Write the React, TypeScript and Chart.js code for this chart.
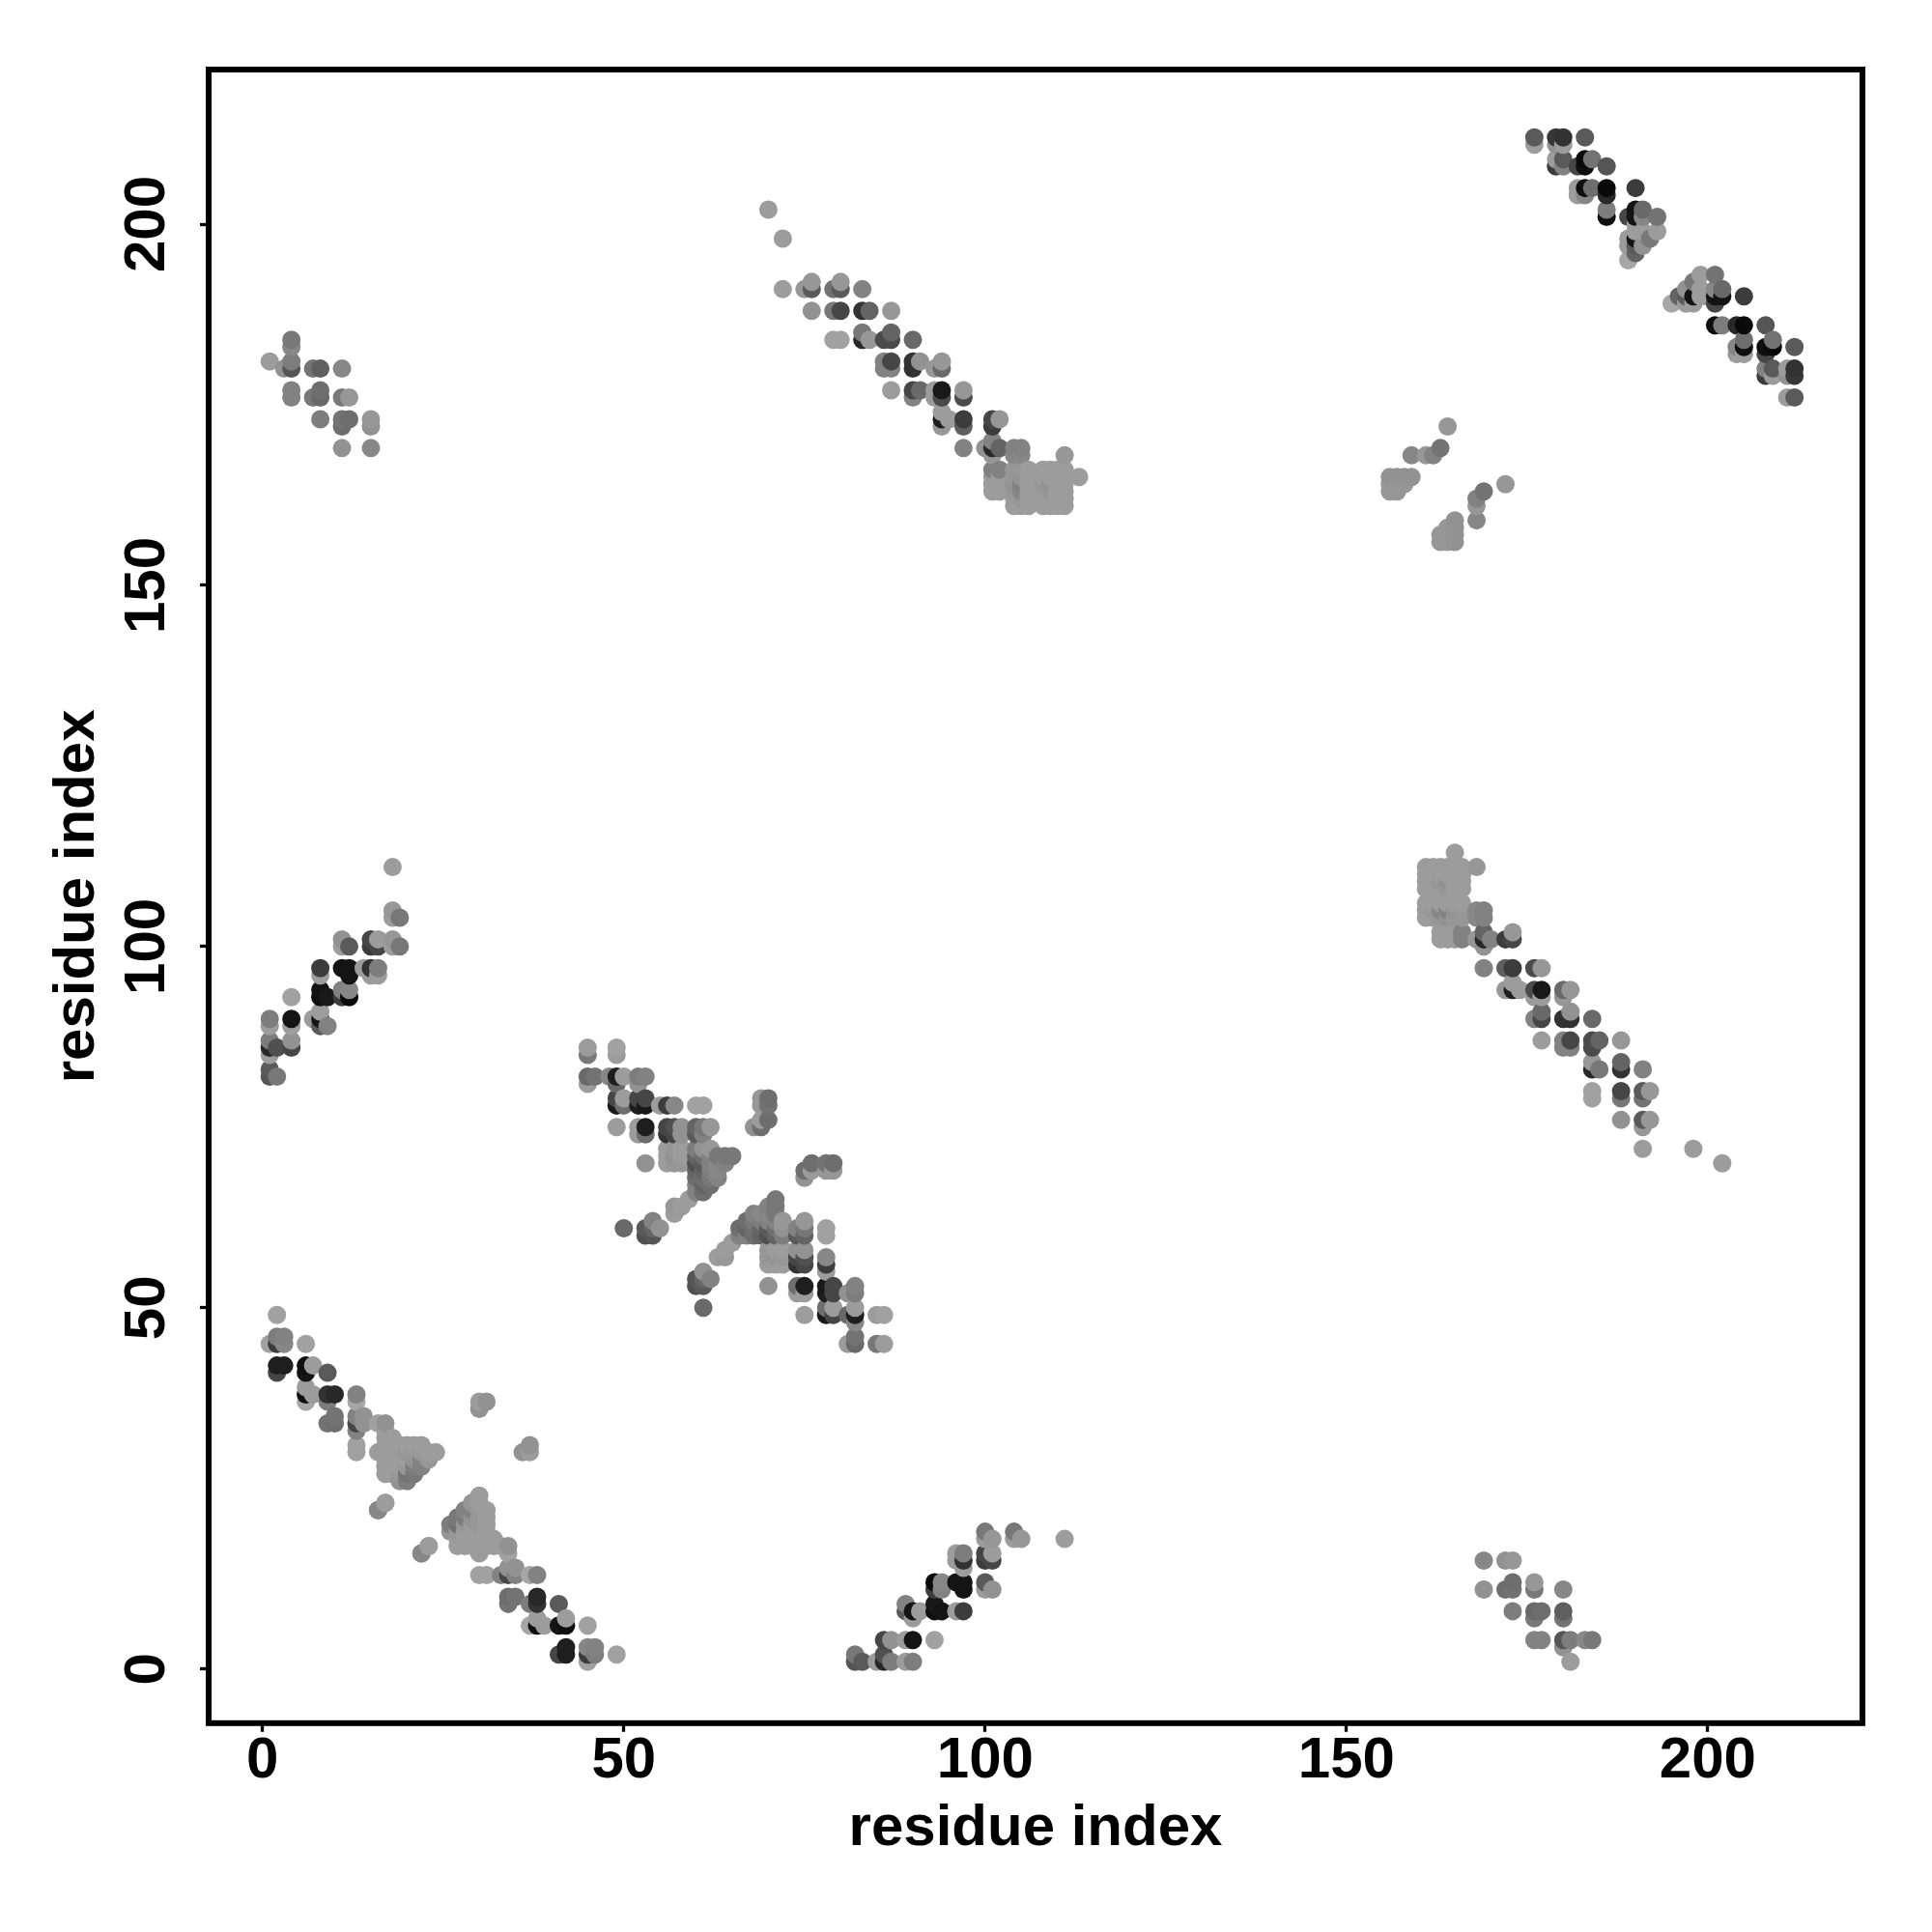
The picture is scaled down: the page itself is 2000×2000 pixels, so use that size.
import React, { useEffect, useRef } from "react";
import { Chart, registerables } from "chart.js";

Chart.register(...registerables);

// Contact map: [residue a, residue b, gray level]; the map is symmetric, so each contact is listed once.
type Contact = [number, number, number];

const tickValues = [0, 50, 100, 150, 200];
const axisLabel = "residue index";

const helixHairpinA: Contact[] = [
  [1,45,155],[2,41,70],[2,42,30],[2,45,60],[2,46,125],[2,49,155],[3,42,30],[3,45,135],[3,46,130],
  [6,37,160],[6,38,15],[6,39,150],[6,41,20],[6,42,15],[6,45,155],[7,38,150],[7,42,150],
  [9,34,115],[9,37,125],[9,38,50],[9,41,90],[10,34,110],[10,35,115],[10,38,40],
  [13,30,155],[13,31,155],[13,33,130],[13,34,70],[13,35,130],[13,37,160],[13,38,130],[14,34,140],[14,35,140],
  [16,22,130],[16,30,150],[16,34,155],
  [17,23,150],[17,27,150],[17,28,150],[17,29,150],[17,30,150],[17,31,150],[17,32,150],[17,33,150],[17,34,140],
  [18,27,150],[18,28,150],[18,29,150],[18,30,150],[18,31,150],[18,32,150],
  [19,26,140],[19,27,145],[19,28,150],[19,29,150],[19,30,150],[19,31,150],
  [20,26,125],[20,27,115],[20,28,145],[20,29,150],[20,30,145],[20,31,150],
  [21,27,120],[21,28,125],[21,29,140],[21,30,145],[21,31,150],
  [22,16,135],[22,28,130],[22,29,130],[22,30,145],[22,31,150],[23,17,150],[23,29,145],[23,30,150],[24,30,150],
  [30,36,140],[30,37,150],[31,37,140],
];

const helixHairpinB: Contact[] = [
  [45,81,150],[45,82,105],[45,85,120],[45,86,150],[46,82,115],[48,82,135],
  [49,75,150],[49,78,25],[49,79,70],[49,81,105],[49,82,30],[49,85,150],[49,86,155],
  [50,61,105],[50,78,110],[50,79,150],[50,82,150],
  [52,74,150],[52,75,150],[52,78,30],[52,79,70],[52,81,140],[52,82,125],
  [53,60,80],[53,61,90],[53,70,140],[53,74,110],[53,75,30],[53,78,25],[53,79,70],[53,82,130],
  [54,60,85],[54,61,100],[54,62,130],[55,61,140],[55,78,150],
  [56,70,150],[56,71,150],[56,72,150],[56,74,50],[56,75,70],[56,78,60],
  [57,63,150],[57,64,145],[57,70,145],[57,71,140],[57,72,145],[57,74,70],[57,75,80],[57,78,135],
  [58,64,150],[58,70,145],[58,71,150],[58,72,150],[58,74,140],[58,75,140],[59,65,150],
  [60,66,130],[60,67,130],[60,68,110],[60,69,100],[60,70,80],[60,71,100],[60,72,125],[60,74,90],[60,75,100],[60,78,155],
  [61,66,110],[61,67,100],[61,68,110],[61,69,100],[61,70,90],[61,71,110],[61,72,140],[61,74,130],[61,75,120],[61,78,155],
  [62,67,110],[62,68,120],[62,69,125],[62,70,130],[62,71,130],[62,72,145],[62,75,145],
  [63,68,130],[63,69,135],[63,70,135],[63,71,120],[64,70,130],[64,71,120],[65,71,120],
  [68,75,140],[69,75,110],[69,76,150],[69,78,145],[69,79,145],[70,76,110],[70,78,115],[70,79,110],
];

const bandC: Contact[] = [
  [82,1,85],[82,2,120],[83,1,90],[85,1,150],[86,1,40],[86,2,80],[86,4,70],[87,1,125],[87,4,140],
  [89,1,150],[89,4,150],[89,8,90],[89,9,130],[90,1,125],[90,4,20],[90,7,150],[90,8,20],[91,8,150],[93,4,155],
  [93,8,15],[93,9,25],[93,11,60],[93,12,10],[94,8,20],[94,11,130],[94,12,135],
  [96,8,150],[96,12,20],[96,15,150],[96,16,150],[97,8,60],[97,11,20],[97,12,20],[97,14,150],[97,15,50],[97,16,125],
  [100,11,150],[100,12,90],[100,15,60],[100,16,70],[100,18,150],[100,19,120],[101,11,140],[101,15,70],[101,16,150],[101,18,145],
  [104,18,150],[104,19,120],[105,18,145],[111,18,150],
];

const bandD: Contact[] = [
  [169,11,140],[169,15,135],[172,11,110],[172,15,140],[173,8,125],[173,11,115],[173,12,110],[173,15,145],
  [176,4,130],[176,7,120],[176,8,105],[176,11,120],[176,12,145],[177,4,130],[177,8,110],
  [180,3,140],[180,4,85],[180,7,115],[180,8,95],[180,11,135],[181,1,150],[181,4,125],[183,4,135],[184,4,120],
];

const bandE: Contact[] = [
  [70,202,150],[72,191,150],[72,198,150],[75,191,145],[76,188,140],[76,191,90],[76,192,145],
  [79,184,155],[79,188,120],[79,191,115],[80,184,155],[80,188,70],[80,191,90],[80,192,145],
  [83,184,40],[83,185,120],[83,188,50],[83,191,130],[84,184,145],[84,188,100],
  [86,180,130],[86,181,130],[86,184,75],[87,177,150],[87,180,130],[87,181,70],[87,184,75],[87,185,100],[87,188,145],
  [90,176,130],[90,177,70],[90,180,50],[90,181,50],[90,184,105],[91,177,105],[91,181,140],
  [93,176,150],[93,177,150],[93,180,145],[94,172,145],[94,173,30],[94,174,150],[94,176,75],[94,177,25],[94,180,105],[94,181,145],
  [95,173,150],[97,169,130],[97,172,95],[97,173,60],[97,176,75],[97,177,145],[100,169,140],
  [101,163,150],[101,164,150],[101,165,150],[101,166,130],[101,168,145],[101,169,40],[101,170,130],[101,172,60],[101,173,70],
  [102,163,150],[102,164,150],[102,165,150],[102,166,130],[102,169,100],[102,173,145],
  [104,161,150],[104,162,150],[104,163,145],[104,164,140],[104,165,145],[104,166,145],[104,168,135],[104,169,130],
  [105,161,150],[105,162,145],[105,163,135],[105,164,130],[105,165,140],[105,166,145],[105,168,135],[105,169,130],
  [106,161,150],[106,162,150],[106,163,150],[106,164,150],[106,165,150],[106,166,150],
  [108,161,150],[108,162,150],[108,163,150],[108,164,145],[108,165,150],[108,166,150],
  [109,161,150],[109,162,150],[109,163,145],[109,164,140],[109,165,150],[109,166,150],
  [110,161,150],[110,162,150],[110,163,150],[110,164,150],[110,165,150],[110,166,150],
  [111,161,150],[111,162,150],[111,163,150],[111,164,150],[111,165,150],[111,166,150],[111,168,145],[113,165,150],
];

const bandF: Contact[] = [
  [156,163,145],[156,164,145],[156,165,140],[157,163,145],[157,164,145],[157,165,140],[158,164,145],[158,165,140],
  [159,165,140],[159,168,135],[161,168,145],[162,168,130],[163,169,115],[164,172,145],
];

const bandG: Contact[] = [
  [176,211,150],[176,212,90],[179,208,60],[179,209,150],[179,211,140],[179,212,55],[180,208,130],[180,209,90],[180,211,150],[180,212,50],
  [182,204,150],[182,205,150],[182,208,70],[183,204,135],[183,205,15],[183,208,15],[183,209,10],[183,212,90],[184,205,110],[184,209,115],
  [186,201,15],[186,202,125],[186,204,40],[186,205,10],[186,208,85],
  [189,195,160],[189,197,150],[189,198,150],[189,201,70],[190,196,100],[190,197,90],[190,198,20],[190,199,150],[190,200,150],[190,201,20],[190,202,20],[190,205,60],
  [191,197,140],[191,199,150],[191,201,135],[191,202,105],[192,198,120],[193,199,150],[193,201,115],
];

const contacts: Contact[] = [
  ...helixHairpinA, ...helixHairpinB, ...bandC, ...bandD, ...bandE, ...bandF, ...bandG,
];

const mirrored = contacts
  .flatMap(([a, b, g]): Contact[] => [[a, b, g], [b, a, g]])
  .sort((p, q) => p[0] - q[0] || p[1] - q[1]);

// The palest marks read slightly lighter than first estimated.
const toColor = (g: number) => {
  const v = g >= 140 ? g + 6 : g;
  return `rgb(${v},${v},${v})`;
};

const framePlugin = {
  id: "frame",
  afterDatasetsDraw(chart: Chart) {
    const { ctx, chartArea: a } = chart;
    ctx.save();
    ctx.strokeStyle = "#000";
    ctx.lineWidth = 6;
    ctx.lineJoin = "miter";
    ctx.strokeRect(a.left, a.top, a.right - a.left, a.bottom - a.top);
    ctx.restore();
  },
};

const FONT_FAMILY = '"Liberation Sans", Arial, sans-serif';

export default function App() {
  const ref = useRef<HTMLCanvasElement>(null);
  useEffect(() => {
    if (!ref.current) return;
    const chart = new Chart(ref.current, {
      type: "scatter",
      data: {
        datasets: [
          {
            data: mirrored.map(([x, y]) => ({ x, y })),
            pointRadius: 9.5,
            pointHoverRadius: 9.5,
            pointBorderWidth: 0,
            pointBackgroundColor: mirrored.map(([, , g]) => toColor(g)),
            showLine: false,
          },
        ],
      },
      options: {
        animation: false,
        responsive: false,
        events: [],
        layout: { padding: { top: 72, right: 72, left: 0, bottom: 0 } },
        plugins: { legend: { display: false }, tooltip: { enabled: false }, title: { display: false } },
        scales: {
          x: {
            type: "linear",
            min: -7.45,
            max: 221.4,
            afterFit: (s: any) => { s.height = 216.2; },
            afterBuildTicks: (s: any) => { s.ticks = tickValues.map((value) => ({ value })); },
            border: { display: false },
            grid: { drawOnChartArea: false, drawTicks: true, tickLength: 9, tickWidth: 3.3, tickColor: "#000" },
            ticks: {
              autoSkip: false, maxRotation: 0, minRotation: 0, padding: -5, color: "#000",
              font: { family: FONT_FAMILY, weight: "bold", size: 60 },
            },
            title: {
              display: true, text: axisLabel, color: "#000", padding: { top: 0, bottom: 71 },
              font: { family: FONT_FAMILY, weight: "bold", size: 60 },
            },
          },
          y: {
            type: "linear",
            min: -7.5,
            max: 221.4,
            afterFit: (s: any) => { s.width = 216; },
            afterBuildTicks: (s: any) => { s.ticks = tickValues.map((value) => ({ value })); },
            border: { display: false },
            grid: { drawOnChartArea: false, drawTicks: true, tickLength: 9, tickWidth: 3.3, tickColor: "#000" },
            ticks: {
              autoSkip: false, maxRotation: 90, minRotation: 90, padding: 3, color: "#000", crossAlign: "center",
              font: { family: FONT_FAMILY, weight: "bold", size: 60 },
            },
            title: {
              display: true, text: axisLabel, color: "#000", padding: { top: 44, bottom: 0 },
              font: { family: FONT_FAMILY, weight: "bold", size: 60 },
            },
          },
        },
      },
      plugins: [framePlugin],
    } as any);
    return () => chart.destroy();
  }, []);
  return (
    <canvas
      ref={ref}
      width={2000}
      height={2000}
      style={{ position: "absolute", left: 0, top: 0, width: 2000, height: 2000, display: "block", background: "#fff" }}
    />
  );
}
